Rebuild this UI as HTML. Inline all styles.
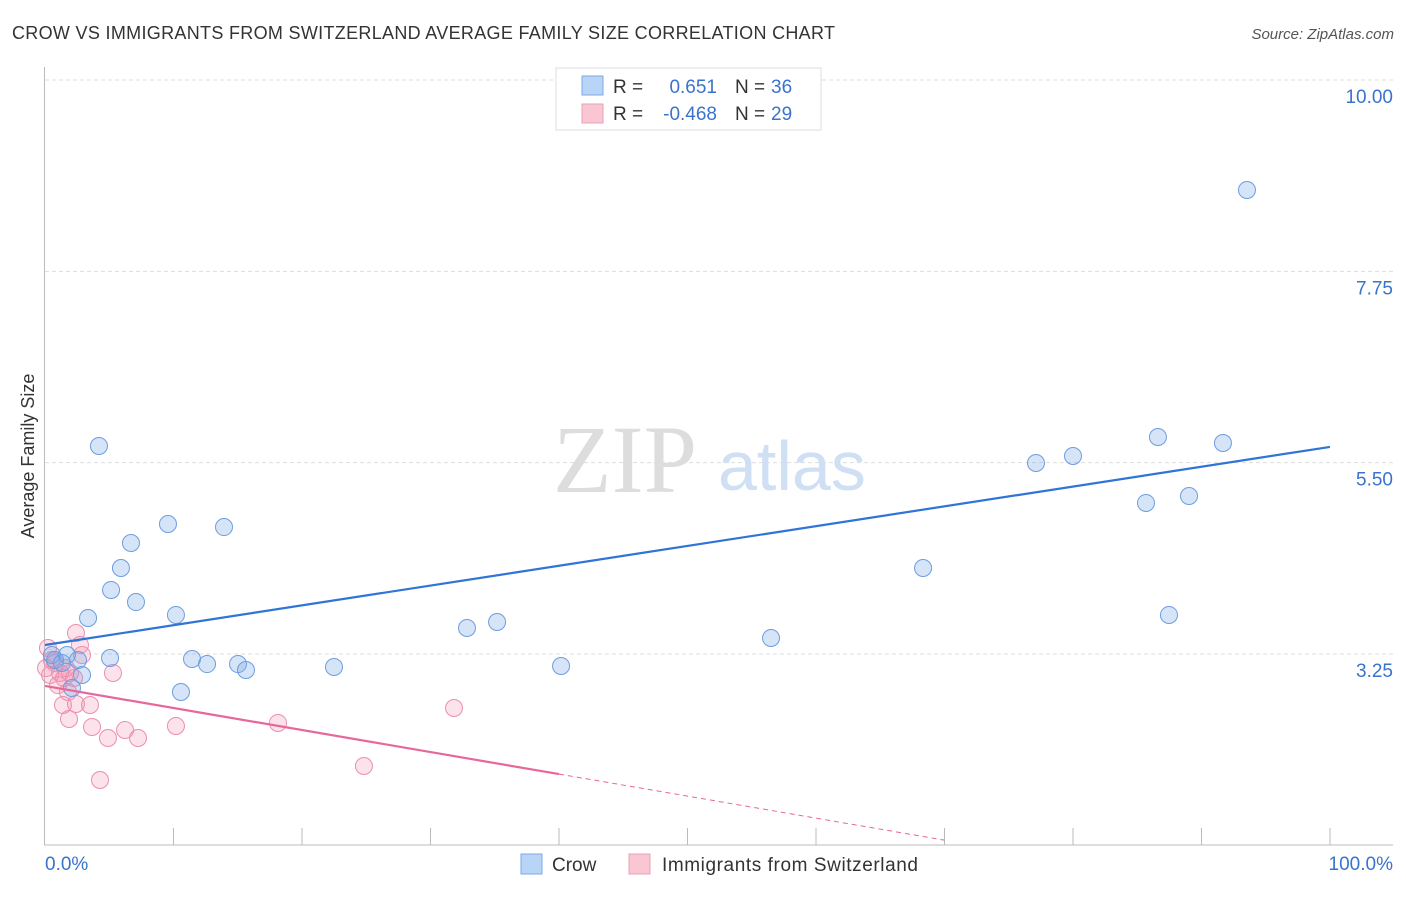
<!DOCTYPE html>
<html><head><meta charset="utf-8"><style>
body{margin:0;background:#fff;font-family:"Liberation Sans",sans-serif;}
svg text{font-family:"Liberation Sans",sans-serif;}
</style></head><body>
<svg id="chart" width="1406" height="892" xmlns="http://www.w3.org/2000/svg">
<text x="12" y="39" font-size="18" fill="#333" textLength="823">CROW VS IMMIGRANTS FROM SWITZERLAND AVERAGE FAMILY SIZE CORRELATION CHART</text>
<text x="1394" y="39" font-size="15" fill="#555" font-style="italic" text-anchor="end">Source: ZipAtlas.com</text>
<text transform="translate(34,456) rotate(-90)" font-size="18" fill="#333" text-anchor="middle">Average Family Size</text>
<g id="grid"></g>
<g id="axes"></g>
<text x="553" y="492" font-size="96" fill="#ddd" style="font-family:'Liberation Serif',serif">ZIP</text>
<text x="718" y="490" font-size="70" fill="#cfe0f5">atlas</text>
<g id="pts"></g>
<g id="trends"></g>
<g>
<rect x="556" y="68" width="265" height="62" fill="#fff" stroke="#ddd"/>
<rect x="582" y="76" width="21" height="19" fill="#b8d4f6" stroke="#7fa9e3"/>
<rect x="582" y="104" width="21" height="19" fill="#f9c6d4" stroke="#eaa0b7"/>
<text x="613" y="93" font-size="19" fill="#333">R = </text><text x="717" y="93" font-size="19" fill="#3a73cc" text-anchor="end">0.651</text>
<text x="735" y="93" font-size="19" fill="#333">N = </text><text x="771" y="93" font-size="19" fill="#3a73cc">36</text>
<text x="613" y="120" font-size="19" fill="#333">R = </text><text x="717" y="120" font-size="19" fill="#3a73cc" text-anchor="end">-0.468</text>
<text x="735" y="120" font-size="19" fill="#333">N = </text><text x="771" y="120" font-size="19" fill="#3a73cc">29</text>
</g>
<g>
<rect x="521" y="854" width="21" height="20" fill="#b8d4f6" stroke="#7fa9e3"/>
<text x="552" y="871" font-size="19" fill="#333">Crow</text>
<rect x="629" y="854" width="21" height="20" fill="#f9c6d4" stroke="#eaa0b7"/>
<text x="662" y="871" font-size="19" fill="#333" textLength="256">Immigrants from Switzerland</text>
</g>
<text x="45" y="870" font-size="19" fill="#3a73cc">0.0%</text>
<text x="1393" y="870" font-size="19" fill="#3a73cc" text-anchor="end">100.0%</text>
</svg>
<script>
const yTicks=[3.25,5.5,7.75,10];
const yTickLabels=["3.25","5.50","7.75","10.00"];
const crowX=[4.2,9.57,13.93,6.69,5.91,5.14,7.08,3.35,10.19,5.06,11.44,12.61,15.02,15.64,22.49,10.58,2.88,2.10,0.54,0.78,1.32,2.57,1.71,32.84,35.18,40.16,56.5,68.33,77.12,80.0,86.61,91.67,85.68,89.03,87.47,93.54];
const crowY=[5.696,4.779,4.743,4.555,4.261,4.003,3.861,3.673,3.709,3.203,3.191,3.132,3.132,3.062,3.097,2.803,3.003,2.85,3.238,3.179,3.144,3.179,3.238,3.556,3.626,3.109,3.438,4.261,5.496,5.578,5.802,5.731,5.026,5.108,3.709,8.706];
const swissX=[2.41,2.72,0.23,0.78,1.95,1.17,0.39,1.48,5.29,1.01,1.79,1.40,2.41,3.50,1.87,3.66,6.23,4.90,7.24,10.19,18.13,31.83,24.82,4.28,0.54,0.08,2.88,2.26,1.63];
const swissY=[3.497,3.356,3.321,3.144,3.027,3.027,3.003,2.968,3.027,2.885,2.803,2.65,2.662,2.65,2.486,2.392,2.356,2.262,2.262,2.403,2.439,2.615,1.933,1.768,3.179,3.085,3.238,2.968,3.085];
const crowTrend=[3.356,5.685];
const swissTrend=[2.874,-0.0259];
const NS="http://www.w3.org/2000/svg";
const X=p=>45+p*12.85;
const Y=v=>654-(v-3.25)*85.04;
function mk(t,a,parent){const e=document.createElementNS(NS,t);for(const k in a)e.setAttribute(k,a[k]);parent.appendChild(e);return e;}
const grid=document.getElementById('grid');
yTicks.forEach((v,i)=>{
  const l=mk('line',{x1:45,x2:1393,y1:Y(v),y2:Y(v),stroke:'#ddd','stroke-dasharray':'4,3'},grid);
  
  
  const t=mk('text',{x:1393,y:Y(v)+23,'font-size':19,fill:'#3a73cc','text-anchor':'end'},grid);
  t.textContent=yTickLabels[i];
  
  
});
const axes=document.getElementById('axes');
mk('line',{x1:44.5,x2:44.5,y1:67,y2:845,stroke:'#bbb'},axes);
mk('line',{x1:44,x2:1393,y1:845,y2:845,stroke:'#bbb'},axes);
for(let i=1;i<=10;i++){
  const l=mk('line',{x1:X(i*10),x2:X(i*10),y1:828,y2:845,stroke:'#bbb'},axes);
  
  
}
const pts=document.getElementById('pts');
swissX.forEach((x,i)=>{
  const c=mk('circle',{cx:X(x),cy:Y(swissY[i]),r:8.5,fill:'rgba(244,150,180,0.28)',stroke:'#eb8fae','stroke-width':1},pts);
  
  
});
crowX.forEach((x,i)=>{
  const c=mk('circle',{cx:X(x),cy:Y(crowY[i]),r:8.5,fill:'rgba(120,165,230,0.3)',stroke:'#6e9de0','stroke-width':1},pts);
  
  
});
const tr=document.getElementById('trends');
const cl=mk('line',{x1:X(0),y1:Y(crowTrend[0]),x2:X(100),y2:Y(crowTrend[1]),stroke:'#2f74d6','stroke-width':2.2},tr);


const sy=p=>swissTrend[0]+swissTrend[1]*p;
const sl=mk('line',{x1:X(0),y1:Y(sy(0)),x2:X(40),y2:Y(sy(40)),stroke:'#e8679a','stroke-width':2.2},tr);


const sd=mk('line',{x1:X(40),y1:Y(sy(40)),x2:X(70),y2:Y(sy(70)),stroke:'#e8679a','stroke-width':1,'stroke-dasharray':'5,4'},tr);


</script>
</body></html>
